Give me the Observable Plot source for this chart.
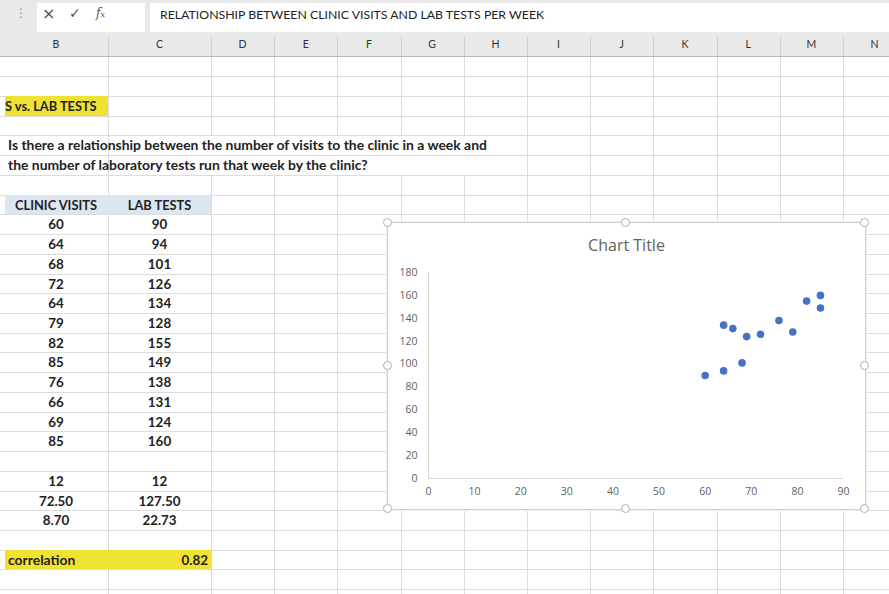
<!DOCTYPE html>
<html><head><meta charset="utf-8">
<script src="https://cdn.jsdelivr.net/npm/d3@7"></script>
<script src="https://cdn.jsdelivr.net/npm/@observablehq/plot@0.6"></script>
<style>
html,body{margin:0;padding:0;background:#fff;}
#sheet{position:relative;width:889px;height:594px;overflow:hidden;background:#fff;font-family:Lato,"Open Sans",sans-serif;}
.abs{position:absolute;}
.hl{position:absolute;left:0;width:889px;height:1px;background:#dcdcdc;}
.vl{position:absolute;width:1px;background:#dcdcdc;}
.cell{position:absolute;font-weight:700;font-size:13.4px;color:#222;line-height:20px;height:20px;white-space:nowrap;}
.txt{font-size:13.9px;}
.hdr{font-size:12.8px;}
.handle{position:absolute;width:7px;height:7px;border-radius:50%;background:#fff;border:1px solid #b0b0b0;}
</style></head><body><div id="sheet"></div>
<script>
const formulaText = "RELATIONSHIP BETWEEN CLINIC VISITS AND LAB TESTS PER WEEK";
const columnLetters = ["B","C","D","E","F","G","H","I","J","K","L","M","N"];
const sheetTitle = "S vs. LAB TESTS";
const questionLines = ["Is there a relationship between the number of visits to the clinic in a week and",
                       "the number of laboratory tests run that week by the clinic?"];
const tableHeaders = ["CLINIC VISITS", "LAB TESTS"];
const clinicVisits = [60, 64, 68, 72, 64, 79, 82, 85, 76, 66, 69, 85];
const labTests = [90, 94, 101, 126, 134, 128, 155, 149, 138, 131, 124, 160];
const visitsSummary = ["12", "72.50", "8.70"];
const labSummary = ["12", "127.50", "22.73"];
const correlationLabel = "correlation";
const correlationValue = "0.82";
const chartTitle = "Chart Title";
const xTicks = [0, 10, 20, 30, 40, 50, 60, 70, 80, 90];
const yTicks = [0, 20, 40, 60, 80, 100, 120, 140, 160, 180];

const sheet = document.getElementById("sheet");
function el(cls, css, text) {
  const d = document.createElement("div");
  if (cls) d.className = cls;
  Object.assign(d.style, css);
  if (text !== undefined) d.textContent = text;
  sheet.appendChild(d);
  return d;
}
const colEdges = [4, 108, 211];
for (let i = 1; i <= 11; i++) colEdges.push(211 + 63.2 * i);
const rowTop = k => Math.round(56.5 + 19.73 * k);

// toolbar
el("abs", {left:"0px", top:"0px", width:"889px", height:"57px", background:"#e9e9e9"});
el("abs", {left:"37px", top:"3px", width:"108px", height:"29px", background:"#fff"});
el("abs", {left:"150px", top:"3px", width:"739px", height:"29px", background:"#fff"});
el("abs", {left:"15px", top:"6px", fontFamily:"DejaVu Sans", fontSize:"12px", color:"#888"}, "\u22EE");
el("abs", {left:"42px", top:"4px", fontFamily:"DejaVu Sans", fontSize:"16px", color:"#555"}, "\u00D7");
el("abs", {left:"69px", top:"5px", fontFamily:"DejaVu Sans", fontSize:"14px", color:"#555", fontWeight:"700"}, "\u2713");
const fx = el("abs", {left:"96px", top:"6px", fontFamily:"DejaVu Serif", fontSize:"12px", color:"#555", fontStyle:"italic"});
fx.innerHTML = "f<span style='font-size:8px'>x</span>";
el("abs", {left:"160px", top:"7px", fontSize:"12.3px", color:"#222", whiteSpace:"nowrap"}, formulaText);

// column header
el("abs", {left:"0px", top:"56px", width:"889px", height:"1px", background:"#b9b9b9"});
columnLetters.forEach((c, i) => {
  const x0 = colEdges[i], x1 = colEdges[i + 1];
  el("abs", {left:x0 + "px", width:(x1 - x0) + "px", top:"38px", textAlign:"center", fontSize:"10.5px", color:"#333", fontFamily:"Lato"}, c);
  if (i > 0) el("vl", {left:Math.round(x0) + "px", top:"36px", height:"20px", background:"#d0d0d0"});
});

// grid lines
for (let k = 1; k < 28; k++) el("hl", {top:rowTop(k) + "px"});
for (let i = 1; i < colEdges.length; i++) el("vl", {left:Math.round(colEdges[i]) + "px", top:"57px", height:"540px"});

// overflow text rows hide vertical lines
[4, 5].forEach(k => el("abs", {left:"109px", top:(rowTop(k) + 1) + "px", width:"417px", height:(rowTop(k + 1) - rowTop(k) - 1) + "px", background:"#fff"}));
// fills
function fill(k, x0, x1, color) {
  el("abs", {left:x0 + "px", top:rowTop(k) + "px", width:(x1 - x0) + "px", height:(rowTop(k + 1) - rowTop(k)) + "px", background:color});
}
fill(2, 5, 108, "#efe233");
fill(7, 5, 211, "#dce6f1");
fill(25, 5, 211, "#efe233");

function cellText(k, x0, x1, text, cls, align) {
  const css = {top:rowTop(k) + "px", left:x0 + "px", width:(x1 - x0) + "px", textAlign:align || "center"};
  return el("cell" + (cls ? " " + cls : ""), css, text);
}
el("cell hdr", {left:"5px", top:rowTop(2) + "px"}, sheetTitle);

questionLines.forEach((q, i) => el("cell txt", {left:"8px", top:rowTop(4 + i) + "px"}, q));
cellText(7, 4, 108, tableHeaders[0], "hdr");
cellText(7, 108, 211, tableHeaders[1], "hdr");
clinicVisits.forEach((v, i) => { cellText(8 + i, 4, 108, String(v)); cellText(8 + i, 108, 211, String(labTests[i])); });
visitsSummary.forEach((v, i) => { cellText(21 + i, 4, 108, v); cellText(21 + i, 108, 211, labSummary[i]); });
el("cell txt", {left:"8px", top:rowTop(25) + "px"}, correlationLabel);
cellText(25, 108, 208, correlationValue, "", "right");

// chart
const box = {x:388, y:223, w:477, h:286};
el("abs", {left:(box.x - 1) + "px", top:(box.y - 1) + "px", width:box.w + "px", height:box.h + "px", background:"#fff", border:"1px solid #cfcfcf", boxShadow:"0 0 0 1px #ececec"});
el("abs", {left:box.x + "px", top:(box.y + 11) + "px", width:box.w + "px", textAlign:"center", fontFamily:"Open Sans", fontSize:"16px", color:"#5f5f5f"}, chartTitle);

const data = clinicVisits.map((v, i) => ({visits: v, tests: labTests[i]}));
const chart = Plot.plot({
  width: box.w, height: box.h,
  marginLeft: 40, marginRight: 22, marginTop: 49, marginBottom: 31,
  style: {background: "transparent", fontFamily: "Open Sans", fontSize: "10.5px", color: "#5f5f5f", overflow: "visible"},
  x: {domain: [0, 90], ticks: xTicks, tickSize: 0, tickPadding: 9, label: null},
  y: {domain: [0, 180], ticks: yTicks, tickSize: 0, tickPadding: 11, label: null},
  marks: [
    Plot.ruleY([0], {stroke: "#d9d9d9", strokeWidth: 1.2}),
    Plot.ruleX([0], {stroke: "#d9d9d9", strokeWidth: 1.2}),
    Plot.dot(data, {x: "visits", y: "tests", r: 3.8, fill: "#4472c4", stroke: null})
  ]
});
chart.style.position = "absolute";
chart.style.left = box.x + "px";
chart.style.top = box.y + "px";
sheet.appendChild(chart);

// selection handles
[[0,0],[0.5,0],[1,0],[0,0.5],[1,0.5],[0,1],[0.5,1],[1,1]].forEach(([fx_, fy]) => {
  el("handle", {left:(box.x - 1 + fx_ * box.w - 4.5) + "px", top:(box.y - 1 + fy * box.h - 4.5) + "px"});
});
</script></body></html>
